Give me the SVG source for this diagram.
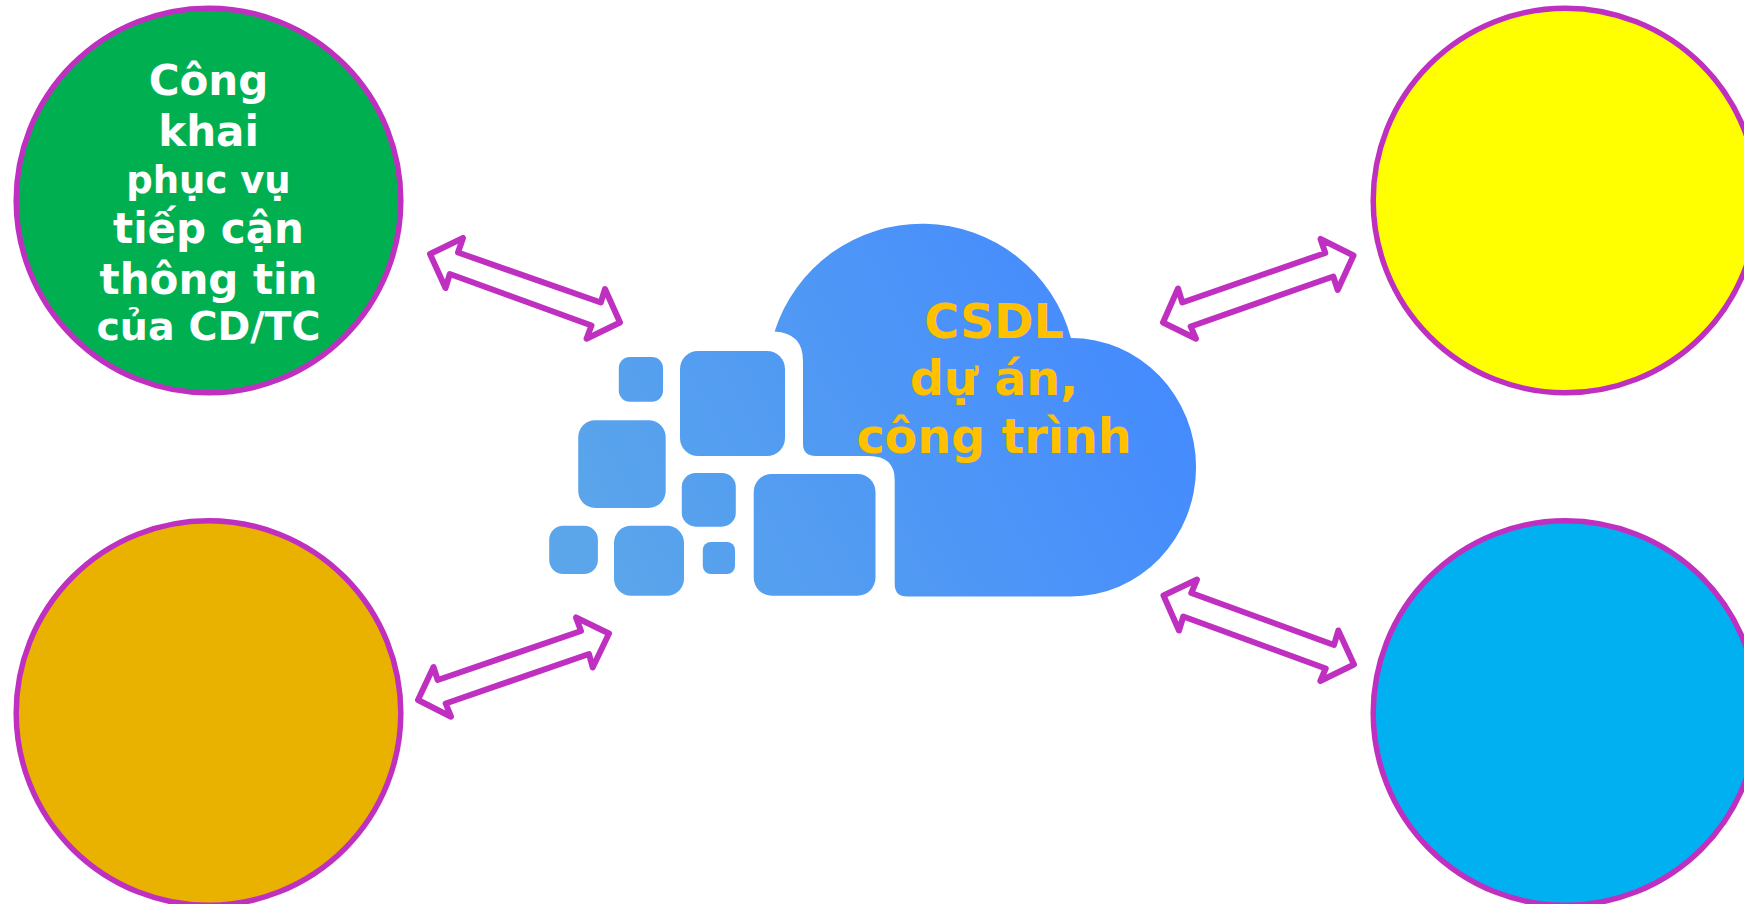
<svg xmlns="http://www.w3.org/2000/svg" width="1744" height="904" viewBox="0 0 1744 904">
<defs>
<linearGradient id="g" gradientUnits="userSpaceOnUse" x1="600" y1="600" x2="1150" y2="300">
<stop offset="0" stop-color="#5BA6EA"/><stop offset="1" stop-color="#448AFF"/>
</linearGradient>
</defs>
<style>
.c{stroke:#C030C0;stroke-width:5.5}
.a{fill:#fff;stroke:#C030C0;stroke-width:6;stroke-linejoin:round}
.s{fill:url(#g)}
text{font-family:"DejaVu Sans",sans-serif;font-weight:700;text-anchor:middle}
.w{fill:#fff}
.o{fill:#FFC000}
</style>
<rect width="1744" height="904" fill="#fff"/>
<g id="cloud">
<path class="s" d="M774.6 331.5A154.5 154.5 0 0 1 1071 338A125 129.2 0 0 1 1071 596.5H907Q894.7 596.5 894.7 584V480Q894.7 456 869 456H816Q803 456 803 444V361Q803 333 774.6 331.5Z"/>
<rect class="s" x="618.8" y="357" width="44.2" height="44.7" rx="11"/>
<rect class="s" x="680" y="351" width="105" height="105" rx="18"/>
<rect class="s" x="578.2" y="420.3" width="87.5" height="87.6" rx="17"/>
<rect class="s" x="681.8" y="473" width="54" height="53.7" rx="14"/>
<rect class="s" x="753.7" y="474" width="121.8" height="121.7" rx="18"/>
<rect class="s" x="549.2" y="525.7" width="48.7" height="48.3" rx="14"/>
<rect class="s" x="614" y="525.7" width="70" height="70" rx="17"/>
<rect class="s" x="702.8" y="542" width="32.2" height="32" rx="8"/>
<text class="o" x="994" y="338" font-size="47.5">CSDL</text>
<text class="o" x="994" y="395" font-size="47.5">dự án,</text>
<text class="o" x="994" y="453" font-size="47.5">công trình</text>
</g>
<g id="node-green">
<circle class="c" cx="208.5" cy="200.5" r="192.3" fill="#00B050"/>
<text class="w" x="208.5" y="95" font-size="42">Công</text>
<text class="w" x="208.5" y="146" font-size="42">khai</text>
<text class="w" x="208.5" y="192.5" font-size="37">phục vụ</text>
<text class="w" x="208.5" y="243" font-size="42">tiếp cận</text>
<text class="w" x="208.5" y="294" font-size="42">thông tin</text>
<text class="w" x="208.5" y="340" font-size="39.5">của CD/TC</text>
</g>
<g id="node-yellow"><circle class="c" cx="1565.5" cy="200.5" r="192.3" fill="#FFFF00"/></g>
<g id="node-gold"><circle class="c" cx="208.5" cy="713" r="192.3" fill="#E9B200"/></g>
<g id="node-blue"><circle class="c" cx="1565.5" cy="713" r="192.3" fill="#00B0F0"/></g>
<g id="connectors">
<polygon class="a" points="430,254 463,238 458,252.5 600.8,302.5 605,289 620,322.5 586.5,338.7 591.5,325.5 449.8,274 445.5,288"/>
<polygon class="a" points="609,633.5 576,617.5 581,631 437.7,680 433.5,667 418,700 451,716.7 445.7,703.5 589,654 592.7,667.5"/>
<polygon class="a" points="1353.5,255.5 1320.5,239 1325.3,253 1182.3,302.5 1178,288.5 1163,322.5 1196,338.7 1190.7,326.5 1333.3,276.5 1337.7,290"/>
<polygon class="a" points="1163.5,595.5 1197,579.5 1191.3,593 1334,645 1338.3,630.5 1354,664.5 1320.3,681 1325.7,668.5 1183.3,616.5 1179,630.5"/>
</g>
</svg>
